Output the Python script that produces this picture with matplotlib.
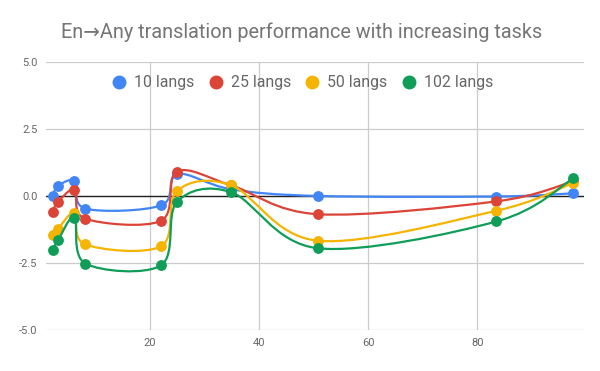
import matplotlib
matplotlib.use("Agg")
import matplotlib.pyplot as plt
from matplotlib.path import Path
from matplotlib.patches import PathPatch
from matplotlib.lines import Line2D

plt.rcParams['font.family'] = ['Roboto', 'DejaVu Sans']

# number of tasks on x, score change on y
tasks = [2.2, 3.2, 6.2, 8.2, 22.1, 25, 34.9, 50.8, 83.5, 97.6]
langs_10 = [0.0, 0.37, 0.55, -0.47, -0.35, 0.82, 0.25, 0.0, -0.02, 0.1]
langs_25 = [-0.59, -0.22, 0.22, -0.85, -0.92, 0.91, 0.4, -0.68, -0.2, 0.55]
langs_50 = [-1.44, -1.22, -0.65, -1.81, -1.87, 0.19, 0.4, -1.67, -0.55, 0.49]
langs_102 = [-2.02, -1.65, -0.81, -2.52, -2.58, -0.22, 0.14, -1.95, -0.95, 0.66]

names = ["10 langs", "25 langs", "50 langs", "102 langs"]
series = [langs_10, langs_25, langs_50, langs_102]
colors = ["#4285F4", "#DB4437", "#F4B400", "#0F9D58"]


def smooth_path(xs, ys, k=1 / 6):
    # catmull-rom style bezier through the points, like the google "function" curve
    pts = list(zip(xs, ys))
    n = len(pts)
    verts = [pts[0]]
    codes = [Path.MOVETO]
    for i in range(n - 1):
        p0 = pts[i - 1] if i > 0 else pts[i]
        p1 = pts[i]
        p2 = pts[i + 1]
        p3 = pts[i + 2] if i + 2 < n else pts[i + 1]
        c1 = (p1[0] + (p2[0] - p0[0]) * k, p1[1] + (p2[1] - p0[1]) * k)
        c2 = (p2[0] - (p3[0] - p1[0]) * k, p2[1] - (p3[1] - p1[1]) * k)
        verts += [c1, c2, p2]
        codes += [Path.CURVE4] * 3
    return Path(verts, codes)


fig = plt.figure(figsize=(6, 3.71), dpi=100)
ax = fig.add_axes([0.0767, 0.1105, 0.8963, 0.7225])

for i, (vals, col) in enumerate(zip(series, colors)):
    ax.add_patch(PathPatch(smooth_path(tasks, vals), facecolor="none",
                           edgecolor=col, lw=1.6, zorder=3 + i, capstyle="round"))
    ax.plot(tasks, vals, "o", color=col, ms=7.8, zorder=3 + i, mew=0)

ax.set_xlim(1, 99.5)
ax.set_ylim(-5, 5)
ax.set_xticks([20, 40, 60, 80])
ax.set_yticks([-5, -2.5, 0, 2.5, 5])
ax.set_yticklabels(["-5.0", "-2.5", "0.0", "2.5", "5.0"])
ax.grid(True, color="#cccccc", lw=0.9, zorder=0)
ax.axhline(0, color="#222222", lw=1, zorder=2)
for s in ax.spines.values():
    s.set_visible(False)
ax.tick_params(length=0, labelsize=8, colors="#666666", pad=6)

handles = [Line2D([], [], marker="o", ls="none", color=c, ms=9) for c in colors]
ax.legend(handles, names, loc="center", bbox_to_anchor=(0.476, 0.922), ncol=4,
          frameon=False, fontsize=11.4, handletextpad=0.45, columnspacing=0.85,
          labelcolor="#666666", handlelength=1.0)

fig.text(0.503, 0.912, "En\u2192Any translation performance with increasing tasks",
         ha="center", va="center", fontsize=14.3, color="#757575")

fig.savefig("out.png", dpi=100)
